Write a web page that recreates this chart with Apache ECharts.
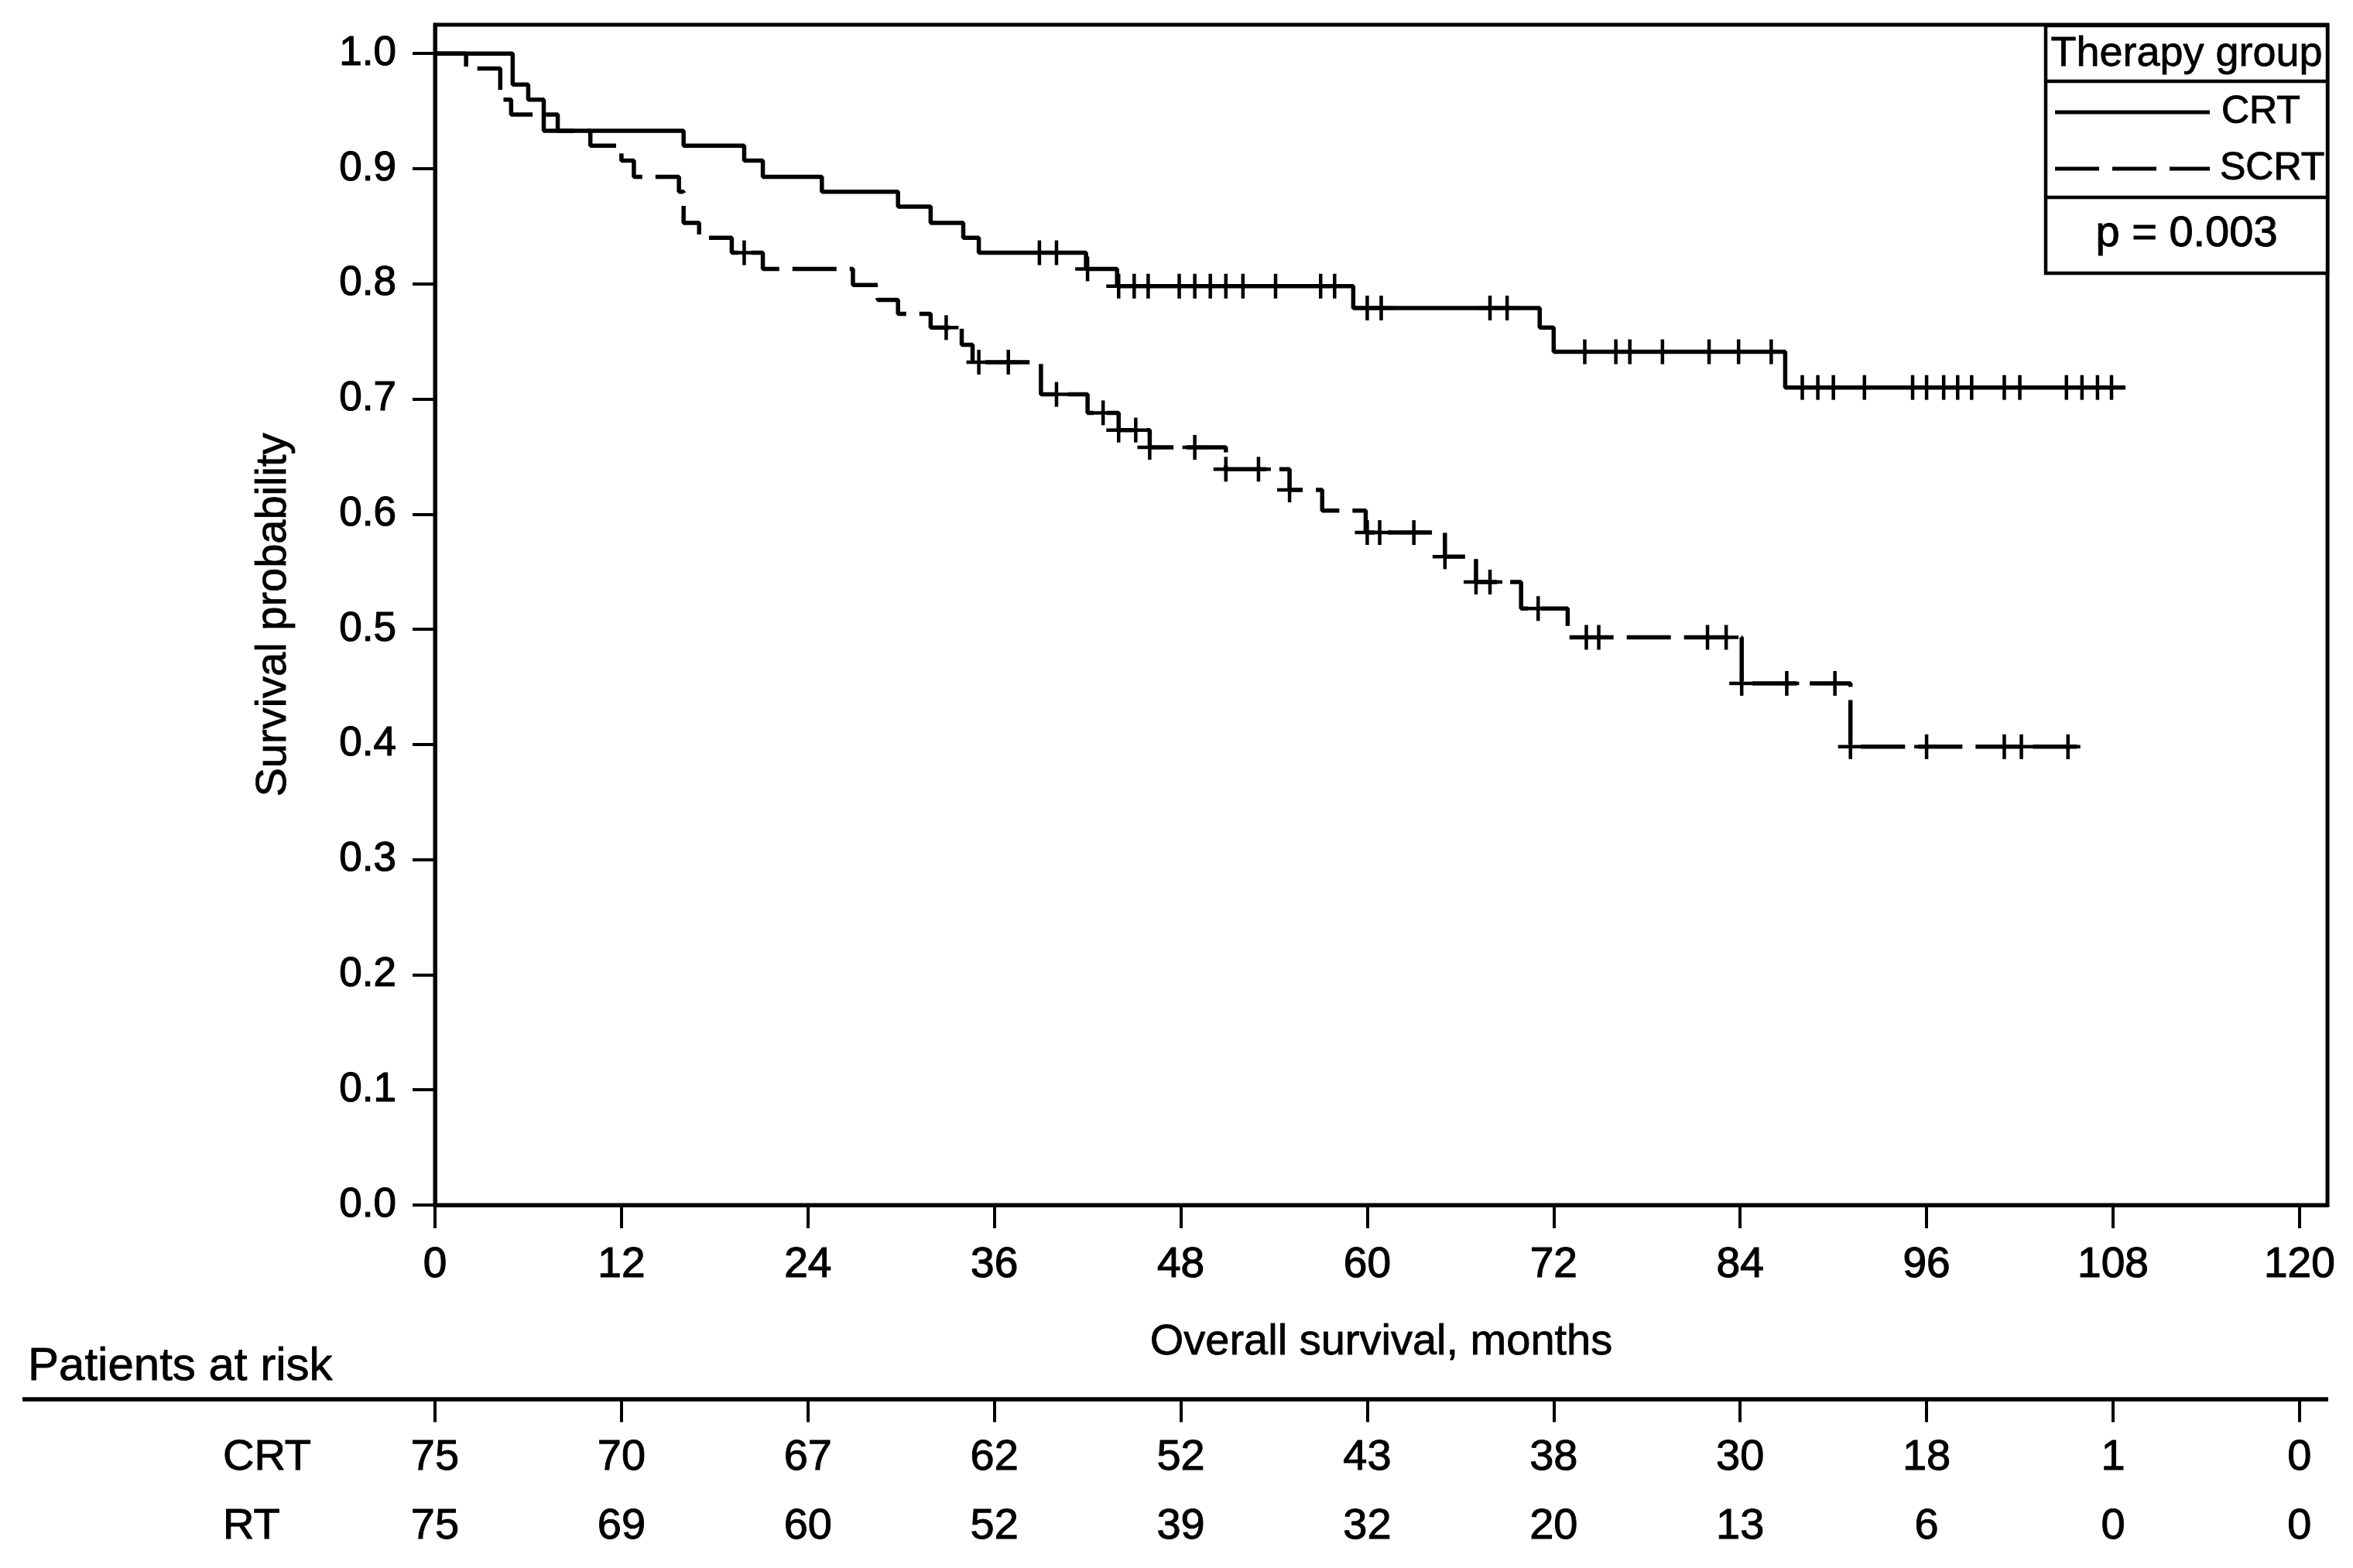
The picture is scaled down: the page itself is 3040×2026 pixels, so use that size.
<!DOCTYPE html>
<html>
<head>
<meta charset="utf-8">
<script src="https://cdn.jsdelivr.net/npm/echarts@6/dist/echarts.min.js"></script>
<style>
html,body{margin:0;padding:0;background:#fff;}
#c{width:3040px;height:2026px;}
</style>
</head>
<body>
<div id="c"></div>
<script>
// ---------- data ----------
const monthTicks = [0, 12, 24, 36, 48, 60, 72, 84, 96, 108, 120];
const survTicks = [0, 0.1, 0.2, 0.3, 0.4, 0.5, 0.6, 0.7, 0.8, 0.9, 1.0];

// CRT (solid): times of each step and survival after the step
const crtTimes = [0, 5.0, 6.0, 7.0, 16.0, 19.9, 21.1, 24.9, 29.8, 31.9, 34.0, 35.0, 41.9, 43.9, 59.1, 71.1, 72.0, 86.9, 108.8];
const crtSurv  = [1.0, 0.973, 0.960, 0.933, 0.920, 0.907, 0.893, 0.880, 0.867, 0.853, 0.840, 0.827, 0.813, 0.798, 0.779, 0.762, 0.741, 0.710, 0.710];
const crtCensor = [38.9, 40.0, 42.0, 44.0, 45.0, 45.9, 47.9, 48.9, 49.9, 50.9, 52.0, 54.1, 57.0, 57.9, 60.0, 60.9, 67.9, 69.0,
                   74.0, 76.0, 76.9, 79.0, 82.0, 83.9, 86.0, 88.0, 89.0, 90.0, 92.0, 95.1, 96.0, 97.1, 98.0, 98.9,
                   101.0, 102.0, 105.0, 106.0, 107.0, 107.9];

// SCRT (dashed)
const rtTimes = [0, 2.0, 4.2, 4.9, 7.9, 10.0, 12.0, 12.8, 15.7, 16.0, 17.0, 19.1, 21.1, 26.9, 28.5, 29.8, 31.9, 33.9, 34.6,
                 39.0, 42.0, 44.0, 46.0, 50.9, 55.0, 57.1, 59.9, 65.0, 67.0, 69.9, 72.9, 84.1, 91.1, 105.8];
const rtSurv  = [1.0, 0.987, 0.960, 0.947, 0.933, 0.920, 0.907, 0.893, 0.880, 0.853, 0.840, 0.827, 0.813, 0.799, 0.786, 0.774, 0.762, 0.747, 0.732,
                 0.704, 0.688, 0.673, 0.658, 0.639, 0.621, 0.603, 0.584, 0.563, 0.541, 0.518, 0.493, 0.453, 0.398, 0.398];
const rtCensor = [19.9, 32.9, 35.0, 36.9, 40.0, 43.0, 44.0, 45.1, 46.0, 48.9, 50.9, 53.0, 55.0, 60.0, 60.8, 63.0, 65.0,
                  67.0, 67.9, 71.0, 74.1, 74.9, 81.9, 83.1, 84.1, 87.0, 90.1, 91.1, 96.0, 101.0, 102.1, 105.1];

// Patients at risk
const riskGroups = ['CRT', 'RT'];
const crtAtRisk = [75, 70, 67, 62, 52, 43, 38, 30, 18, 1, 0];
const rtAtRisk  = [75, 69, 60, 52, 39, 32, 20, 13, 6, 0, 0];

const legendTitle = 'Therapy group';
const legendNames = ['CRT', 'SCRT'];
const pText = 'p = 0.003';

// ---------- helpers ----------
const FONT = '"Liberation Sans", Arial, Helvetica, sans-serif';
function hasFont(name) {
  const ctx = document.createElement('canvas').getContext('2d');
  ctx.font = '60px monospace';
  const a = ctx.measureText('abcdefgh0123456789').width;
  ctx.font = '60px "' + name + '", monospace';
  const b = ctx.measureText('abcdefgh0123456789').width;
  return Math.abs(a - b) > 0.5;
}
const NARROW_OK = hasFont('Liberation Sans Narrow');
const RISK_FONT = NARROW_OK ? '"Liberation Sans Narrow", "Liberation Sans", Arial, sans-serif' : FONT;
const RISK_SIZE = NARROW_OK ? 61 : 56;

const X_MAX = 121.8;   // frame extends a little past 120
const Y_MAX = 1.025;   // frame extends a little above 1.0

function levelAt(times, surv, t) {
  let s = surv[0];
  for (let i = 0; i < times.length; i++) if (times[i] <= t + 1e-9) s = surv[i];
  return s;
}
const zip = (a, b) => a.map((v, i) => [v, b[i]]);
const crtLine = zip(crtTimes, crtSurv);
const rtLine = zip(rtTimes, rtSurv);
const crtMarks = crtCensor.map(t => [t, levelAt(crtTimes, crtSurv, t)]);
const rtMarks = rtCensor.map(t => [t, levelAt(rtTimes, rtSurv, t)]);
const riskData = [];
monthTicks.forEach((m, i) => {
  riskData.push([m, 0, crtAtRisk[i]]);
  riskData.push([m, 1, rtAtRisk[i]]);
});

function censorItem(params, api) {
  const p = api.coord([api.value(0), api.value(1)]);
  const a = 16;
  return {
    type: 'group',
    children: [
      { type: 'line', shape: { x1: p[0], y1: p[1] - a, x2: p[0], y2: p[1] + a }, style: { stroke: '#000', lineWidth: 4.5 } },
      { type: 'line', shape: { x1: p[0] - a, y1: p[1], x2: p[0] + a, y2: p[1] }, style: { stroke: '#000', lineWidth: 4.5 } }
    ]
  };
}

const chart = echarts.init(document.getElementById('c'), null, { renderer: 'canvas' });

const boldish = { textBorderColor: '#000', textBorderWidth: 1.2 };

const option = {
  backgroundColor: '#fff',
  animation: false,
  textStyle: { fontFamily: FONT, color: '#000' },
  grid: [
    { left: 562, right: 33, top: 32, bottom: 469, show: true, borderColor: '#000', borderWidth: 5, backgroundColor: 'transparent' },
    { left: 562, right: 33, top: 1839.5, height: 178 }
  ],
  xAxis: [
    {
      gridIndex: 0, type: 'value', min: 0, max: X_MAX,
      axisLine: { show: true, onZero: false, lineStyle: { color: '#000', width: 5 } },
      axisTick: { show: true, length: 30, lineStyle: { color: '#000', width: 4 }, customValues: monthTicks },
      axisLabel: Object.assign({ customValues: monthTicks, margin: 50, fontSize: 55, color: '#000', fontFamily: FONT }, boldish),
      splitLine: { show: false },
      name: 'Overall survival, months', nameLocation: 'middle', nameGap: 150,
      nameTextStyle: Object.assign({ fontSize: 56, color: '#000', fontFamily: FONT }, { textBorderColor: '#000', textBorderWidth: 0.8 })
    },
    {
      gridIndex: 1, type: 'value', min: 0, max: X_MAX, position: 'top', offset: 31,
      axisLine: { show: false },
      axisTick: { show: true, inside: true, length: 29, lineStyle: { color: '#000', width: 4 }, customValues: monthTicks },
      axisLabel: { show: false },
      splitLine: { show: false }
    }
  ],
  yAxis: [
    {
      gridIndex: 0, type: 'value', min: 0, max: Y_MAX,
      axisLine: { show: true, onZero: false, lineStyle: { color: '#000', width: 5 } },
      axisTick: { show: true, length: 29, lineStyle: { color: '#000', width: 4 }, customValues: survTicks },
      axisLabel: Object.assign({ customValues: survTicks, margin: 50, fontSize: 53, color: '#000', fontFamily: FONT,
                   formatter: v => Number(v).toFixed(1) }, boldish),
      splitLine: { show: false },
      name: 'Survival probability', nameLocation: 'middle', nameGap: 180, nameRotate: 90,
      nameTextStyle: { fontSize: 56, color: '#000', fontFamily: FONT, textBorderColor: '#000', textBorderWidth: 0.8 }
    },
    {
      gridIndex: 1, type: 'category', data: riskGroups, inverse: true,
      axisLine: { show: false }, axisTick: { show: false },
      axisLabel: { align: 'left', margin: 274, fontSize: RISK_SIZE, color: '#000', fontFamily: RISK_FONT, textBorderColor: '#000', textBorderWidth: 1 },
      splitLine: { show: false }
    }
  ],
  series: [
    {
      name: 'CRT', type: 'line', step: 'end', xAxisIndex: 0, yAxisIndex: 0, data: crtLine,
      showSymbol: false, symbol: 'none', lineStyle: { color: '#000', width: 5.5, type: 'solid' }, z: 3
    },
    {
      name: 'SCRT', type: 'line', step: 'end', xAxisIndex: 0, yAxisIndex: 0, data: rtLine,
      showSymbol: false, symbol: 'none', lineStyle: { color: '#000', width: 5.5, type: [57, 17] }, z: 3
    },
    { name: 'CRT censored', type: 'custom', xAxisIndex: 0, yAxisIndex: 0, data: crtMarks, renderItem: censorItem, z: 4 },
    { name: 'SCRT censored', type: 'custom', xAxisIndex: 0, yAxisIndex: 0, data: rtMarks, renderItem: censorItem, z: 4 },
    {
      name: 'at risk', type: 'custom', xAxisIndex: 1, yAxisIndex: 1, data: riskData,
      renderItem: function (params, api) {
        const p = api.coord([api.value(0), api.value(1)]);
        return {
          type: 'text', x: p[0], y: p[1],
          style: { text: String(api.value(2)), fontSize: RISK_SIZE, fontFamily: RISK_FONT, fill: '#000',
                   stroke: '#000', lineWidth: 1, align: 'center', verticalAlign: 'middle' }
        };
      }
    }
  ],
  graphic: [
    { type: 'line', shape: { x1: 29, y1: 1808, x2: 3008, y2: 1808 }, style: { stroke: '#000', lineWidth: 5.5 } },
    { type: 'text', x: 36, y: 1766, style: { text: 'Patients at risk', fontSize: 60, fontFamily: FONT, fill: '#000', stroke: '#000', lineWidth: 0.8, align: 'left', verticalAlign: 'middle' } },
    // legend box
    { type: 'rect', shape: { x: 2643, y: 33, width: 364, height: 320 }, style: { fill: '#fff', stroke: '#000', lineWidth: 4.5 }, z: 10 },
    { type: 'line', shape: { x1: 2643, y1: 105, x2: 3007, y2: 105 }, style: { stroke: '#000', lineWidth: 4.5 }, z: 11 },
    { type: 'line', shape: { x1: 2643, y1: 255, x2: 3007, y2: 255 }, style: { stroke: '#000', lineWidth: 4.5 }, z: 11 },
    { type: 'text', x: 2825, y: 70, style: { text: legendTitle, fontSize: 54, fontFamily: FONT, fill: '#000', stroke: '#000', lineWidth: 0.8, align: 'center', verticalAlign: 'middle' }, z: 11 },
    { type: 'line', shape: { x1: 2655, y1: 145, x2: 2855, y2: 145 }, style: { stroke: '#000', lineWidth: 5 }, z: 11 },
    { type: 'text', x: 2870, y: 145, style: { text: legendNames[0], fontSize: 50, fontFamily: FONT, fill: '#000', stroke: '#000', lineWidth: 1, align: 'left', verticalAlign: 'middle' }, z: 11 },
    { type: 'line', shape: { x1: 2655, y1: 218, x2: 2855, y2: 218 }, style: { stroke: '#000', lineWidth: 5, lineDash: [57, 17] }, z: 11 },
    { type: 'text', x: 2868, y: 218, style: { text: legendNames[1], fontSize: 50, fontFamily: FONT, fill: '#000', stroke: '#000', lineWidth: 1, align: 'left', verticalAlign: 'middle' }, z: 11 },
    { type: 'text', x: 2825, y: 303, style: { text: pText, fontSize: 56, fontFamily: FONT, fill: '#000', stroke: '#000', lineWidth: 1, align: 'center', verticalAlign: 'middle' }, z: 11 }
  ]
};

chart.setOption(option);
</script>
</body>
</html>
